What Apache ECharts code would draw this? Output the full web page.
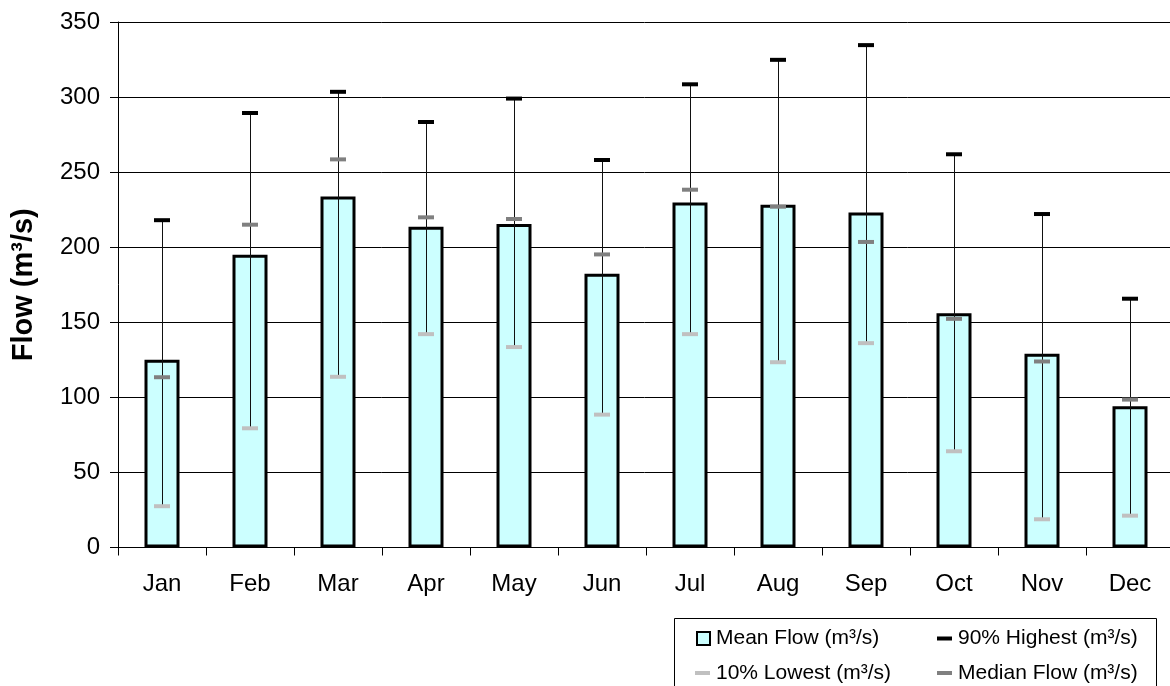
<!DOCTYPE html>
<html>
<head>
<meta charset="utf-8">
<script src="https://cdn.jsdelivr.net/npm/echarts@6/dist/echarts.min.js"></script>
<style>
html,body{margin:0;padding:0;background:#fff;}
#chart{width:1170px;height:686px;}
</style>
</head>
<body>
<div id="chart"></div>
<script>
const months = ['Jan','Feb','Mar','Apr','May','Jun','Jul','Aug','Sep','Oct','Nov','Dec'];
const meanFlow = [125, 195, 233.7, 213.7, 215.4, 182.3, 229.7, 228.3, 223.2, 156.1, 129, 94.1];
const high90 = [218, 289.4, 303.5, 283.4, 299, 258.1, 308.5, 324.8, 334.6, 261.9, 222.1, 165.7];
const medianFlow = [113.4, 215, 258.5, 219.9, 218.8, 195.2, 238.3, 227, 203.5, 152.3, 123.9, 98.5];
const low10 = [27.5, 79.4, 113.7, 142.1, 133.5, 88.5, 142.1, 123.4, 136.1, 64.1, 18.8, 21.2];
const yTicks = [0, 50, 100, 150, 200, 250, 300, 350];

const FONT = "'Liberation Sans', Arial, sans-serif";
const NAME_MEAN = 'Mean Flow (m³/s)';
const NAME_HIGH = '90% Highest (m³/s)';
const NAME_LOW = '10% Lowest (m³/s)';
const NAME_MED = 'Median Flow (m³/s)';

const errData = months.map((m, i) => [i, low10[i], high90[i]]);

const chart = echarts.init(document.getElementById('chart'), null, {renderer: 'canvas'});

function legendFor(name, left, top, w, h, extra) {
  return Object.assign({
    data: [{name: name, icon: 'rect'}],
    left: left, top: top, padding: 0,
    itemWidth: w, itemHeight: h, itemGap: 0,
    selectedMode: false,
    itemStyle: {opacity: 1},
    textStyle: {fontFamily: FONT, fontSize: 21, color: '#000', padding: [0,0,0,1]}
  }, extra || {});
}

chart.setOption({
  animation: false,
  backgroundColor: '#fff',
  grid: {left: 118, right: -4, top: 22, bottom: 686 - 547.5, containLabel: false, outerBoundsMode: 'none'},
  legend: [
    legendFor(NAME_MEAN, 696, 628, 13, 13, {itemStyle: {borderColor: '#000', borderWidth: 2, opacity: 1}}),
    legendFor(NAME_LOW, 695, 662.5, 15, 4),
    legendFor(NAME_HIGH, 937, 628, 15, 4),
    legendFor(NAME_MED, 937, 662.5, 15, 4)
  ],
  graphic: [{
    type: 'rect', z: 0,
    shape: {x: 674.5, y: 618.5, width: 482, height: 90},
    style: {fill: 'none', stroke: '#000', lineWidth: 1}
  }],
  xAxis: {
    type: 'category', data: months, boundaryGap: true,
    axisLine: {lineStyle: {color: '#000', width: 1}},
    axisTick: {show: true, length: 8, inside: false, lineStyle: {color: '#000'}},
    axisLabel: {fontFamily: FONT, fontSize: 24, color: '#000', margin: 25},
    splitLine: {show: false}
  },
  yAxis: {
    type: 'value', min: 0, max: 350, interval: 50,
    name: 'Flow (m³/s)', nameLocation: 'middle', nameGap: 80, nameRotate: 90,
    nameTextStyle: {fontFamily: FONT, fontSize: 29, fontWeight: 'bold', color: '#000'},
    axisLine: {show: true, lineStyle: {color: '#000', width: 1}},
    axisTick: {show: true, length: 8, inside: false, lineStyle: {color: '#000'}},
    axisLabel: {fontFamily: FONT, fontSize: 24, color: '#000', margin: 18,
      formatter: v => (yTicks.indexOf(v) >= 0 ? String(v) : '')},
    splitLine: {show: true, lineStyle: {color: '#000', width: 1}}
  },
  series: [
    {
      name: NAME_MEAN, type: 'bar', data: meanFlow, barWidth: 35, z: 2,
      itemStyle: {color: '#ccffff', borderColor: '#000', borderWidth: 3}
    },
    {
      name: 'range', type: 'custom', z: 3, data: errData,
      encode: {x: 0, y: [1, 2]},
      renderItem: function (params, api) {
        const p1 = api.coord([api.value(0), api.value(1)]);
        const p2 = api.coord([api.value(0), api.value(2)]);
        const x = Math.round(p1[0]) + 0.5;
        return {type: 'line', shape: {x1: x, y1: p1[1], x2: x, y2: p2[1]},
          style: {stroke: '#111', lineWidth: 1}};
      }
    },
    {
      name: NAME_LOW, type: 'scatter', data: low10, z: 4,
      symbol: 'rect', symbolSize: [16, 4], itemStyle: {color: '#c0c0c0', opacity: 1}
    },
    {
      name: NAME_MED, type: 'scatter', data: medianFlow, z: 5,
      symbol: 'rect', symbolSize: [16, 4], itemStyle: {color: '#808080', opacity: 1}
    },
    {
      name: NAME_HIGH, type: 'scatter', data: high90, z: 6,
      symbol: 'rect', symbolSize: [16, 4], itemStyle: {color: '#000', opacity: 1}
    }
  ]
});
</script>
</body>
</html>
